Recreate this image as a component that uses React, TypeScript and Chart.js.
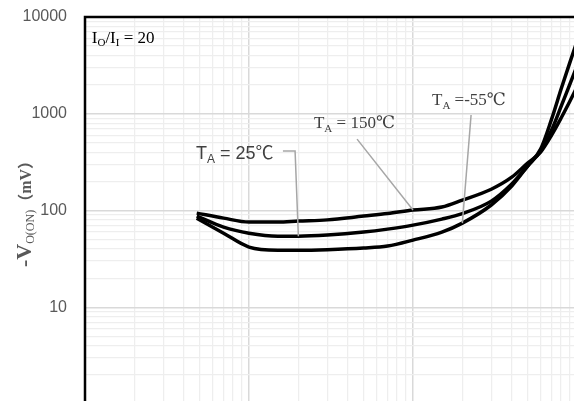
import { useEffect, useRef } from 'react';
import { Chart, registerables } from 'chart.js';

Chart.register(...registerables);

// Output current I_O (mA) at which each curve is sampled
const loadCurrent = [4.8, 7, 10, 15, 20, 30, 50, 70, 100, 150, 200, 300, 400, 500, 600, 700, 800, 900, 1000];

// -V_O(ON) in mV for each ambient temperature
const vOn150 = [94, 83.4, 75.9, 75.9, 77.7, 80, 87.5, 92.9, 101, 108.5, 128, 166, 221, 309, 402, 602, 903, 1321, 1888];
const vOn25 = [87.5, 67.3, 58.3, 54.3, 54.3, 55.7, 59.8, 64.2, 70.6, 81.5, 93, 125, 188, 288, 411, 678, 1189, 1981, 3113];
const vOnMinus55 = [83.4, 58.3, 41.9, 38.9, 38.9, 39.4, 40.9, 42.9, 49.4, 59.8, 74.1, 114, 179, 288, 431, 881, 1800, 3300, 5600];

// Axis ranges and labelled ticks
const xRange = [1, 1000];
const yRange = [1, 10000];
const yTickLabels = [10, 100, 1000, 10000];

const SERIF = "'Liberation Serif', 'DejaVu Serif', 'Noto Sans CJK SC', serif";
const SANS = "'Liberation Sans', Arial, 'Noto Sans CJK SC', sans-serif";

type Part = { text: string; font: string; dy?: number };

const isDecade = (v: number) => Math.abs(Math.log10(v) - Math.round(Math.log10(v))) < 1e-9;

function logGrid(min: number, max: number) {
  const out: number[] = [];
  for (let e = Math.round(Math.log10(min)); Math.pow(10, e) < max; e++) {
    for (let m = 1; m <= 9; m++) out.push(m * Math.pow(10, e));
  }
  out.push(max);
  return out;
}

function drawParts(ctx: CanvasRenderingContext2D, parts: Part[], x: number, y: number, color: string, center = false) {
  ctx.save();
  ctx.fillStyle = color;
  ctx.textAlign = 'left';
  ctx.textBaseline = 'alphabetic';
  let total = 0;
  for (const p of parts) {
    ctx.font = p.font;
    total += ctx.measureText(p.text).width;
  }
  let cx = center ? x - total / 2 : x;
  for (const p of parts) {
    ctx.font = p.font;
    ctx.fillText(p.text, cx, y + (p.dy || 0));
    cx += ctx.measureText(p.text).width;
  }
  ctx.restore();
}

// Curve labels: anchor in data units, leader polyline ends on the curve
const curveNotes = [
  {
    at: [4.75, 340],
    color: '#404040',
    parts: [
      { text: 'T', font: `18px ${SANS}` },
      { text: 'A', font: `12px ${SANS}`, dy: 4 },
      { text: ' = 25℃', font: `18px ${SANS}` },
    ],
    leader: [[16.1, 411], [19.1, 411], [loadCurrent[4], vOn25[4]]],
  },
  {
    at: [24.9, 711],
    color: '#404040',
    parts: [
      { text: 'T', font: `17px ${SERIF}` },
      { text: 'A', font: `11px ${SERIF}`, dy: 4 },
      { text: ' = 150℃', font: `17px ${SERIF}` },
    ],
    leader: [[45.6, 547], [loadCurrent[8], vOn150[8]]],
  },
  {
    at: [130.6, 1230],
    color: '#404040',
    parts: [
      { text: 'T', font: `17px ${SERIF}` },
      { text: 'A', font: `11px ${SERIF}`, dy: 4 },
      { text: ' =-55℃', font: `17px ${SERIF}` },
    ],
    leader: [[226, 970], [loadCurrent[10], vOnMinus55[10]]],
  },
];

const ratioNote = {
  at: [1.1, 5383],
  parts: [
    { text: 'I', font: `17px ${SERIF}` },
    { text: 'O', font: `11px ${SERIF}`, dy: 3 },
    { text: '/I', font: `17px ${SERIF}` },
    { text: 'I', font: `11px ${SERIF}`, dy: 3 },
    { text: ' = 20', font: `17px ${SERIF}` },
  ] as Part[],
};

const yTitle: Part[] = [
  { text: '-V', font: `bold 22px ${SERIF}` },
  { text: 'O(ON)', font: `12px ${SERIF}`, dy: 3 },
  { text: '（mV）', font: `bold 16px ${SERIF}` },
];

const overlay = {
  id: 'overlay',
  afterDatasetsDraw(chart: any) {
    const { ctx, chartArea, scales } = chart;
    const xs = scales.x;
    const ys = scales.y;
    ctx.save();

    // frame: left axis and top edge
    ctx.strokeStyle = '#000';
    ctx.lineWidth = 2.5;
    ctx.beginPath();
    ctx.moveTo(chartArea.left, chartArea.bottom + 2);
    ctx.lineTo(chartArea.left, chartArea.top);
    ctx.lineTo(chartArea.right + 2, chartArea.top);
    ctx.stroke();

    // leader lines
    ctx.strokeStyle = '#a6a6a6';
    ctx.lineWidth = 1.5;
    for (const n of curveNotes) {
      ctx.beginPath();
      n.leader.forEach(([lx, ly], i) => {
        const px = xs.getPixelForValue(lx);
        const py = ys.getPixelForValue(ly);
        if (i === 0) ctx.moveTo(px, py);
        else ctx.lineTo(px, py);
      });
      ctx.stroke();
    }

    for (const n of curveNotes) {
      drawParts(ctx, n.parts as Part[], xs.getPixelForValue(n.at[0]), ys.getPixelForValue(n.at[1]), n.color);
    }
    drawParts(ctx, ratioNote.parts, xs.getPixelForValue(ratioNote.at[0]), ys.getPixelForValue(ratioNote.at[1]), '#000');

    // rotated y-axis title
    ctx.translate(31, 210);
    ctx.rotate(-Math.PI / 2);
    drawParts(ctx, yTitle, 0, 0, '#595959', true);
    ctx.restore();
  },
};

export default function App() {
  const ref = useRef<HTMLCanvasElement>(null);

  useEffect(() => {
    if (!ref.current) return;
    const xGrid = logGrid(xRange[0], xRange[1]);
    const yGrid = logGrid(yRange[0], yRange[1]);
    const gridColor = (c: any) => (c.tick && isDecade(c.tick.value) ? '#d9d9d9' : '#eeeeee');
    const gridWidth = (c: any) => (c.tick && isDecade(c.tick.value) ? 1.5 : 1.25);
    const series = [vOn150, vOn25, vOnMinus55];
    const names = ['TA = 150℃', 'TA = 25℃', 'TA = -55℃'];

    const chart = new Chart(ref.current, {
      type: 'line',
      data: {
        datasets: series.map((arr, k) => ({
          label: names[k],
          data: loadCurrent.map((x, i) => ({ x, y: arr[i] })),
          borderColor: '#000',
          borderWidth: 3.5,
          pointRadius: 0,
          fill: false,
          cubicInterpolationMode: 'monotone' as const,
        })),
      },
      options: {
        responsive: false,
        devicePixelRatio: 1,
        animation: false,
        layout: { padding: { top: 17, right: 23, left: 0, bottom: 0 } },
        plugins: { legend: { display: false }, tooltip: { enabled: false } },
        scales: {
          x: {
            type: 'logarithmic',
            min: xRange[0],
            max: xRange[1],
            border: { display: false },
            grid: { color: gridColor, lineWidth: gridWidth, drawTicks: false },
            ticks: { display: false, autoSkip: false },
            afterBuildTicks: (s: any) => {
              s.ticks = xGrid.map((v) => ({ value: v }));
            },
            afterFit: (s: any) => {
              s.height = 16;
              s.paddingLeft = 0;
              s.paddingRight = 0;
            },
          },
          y: {
            type: 'logarithmic',
            min: yRange[0],
            max: yRange[1],
            border: { display: false },
            grid: { color: gridColor, lineWidth: gridWidth, drawTicks: false },
            ticks: {
              autoSkip: false,
              padding: 18,
              color: '#595959',
              font: { family: SANS, size: 16 },
              callback: (v: any) => (yTickLabels.includes(Number(v)) ? String(v) : ''),
            },
            afterBuildTicks: (s: any) => {
              s.ticks = yGrid.map((v) => ({ value: v }));
            },
            afterFit: (s: any) => {
              s.width = 85;
              s.paddingTop = 0;
              s.paddingBottom = 0;
            },
          },
        },
      },
      plugins: [overlay],
    });
    return () => chart.destroy();
  }, []);

  return (
    <div style={{ position: 'absolute', left: 0, top: 0, width: 574, height: 401, overflow: 'hidden', background: '#fff' }}>
      <canvas ref={ref} width={600} height={420} style={{ display: 'block', width: 600, height: 420 }} />
    </div>
  );
}
